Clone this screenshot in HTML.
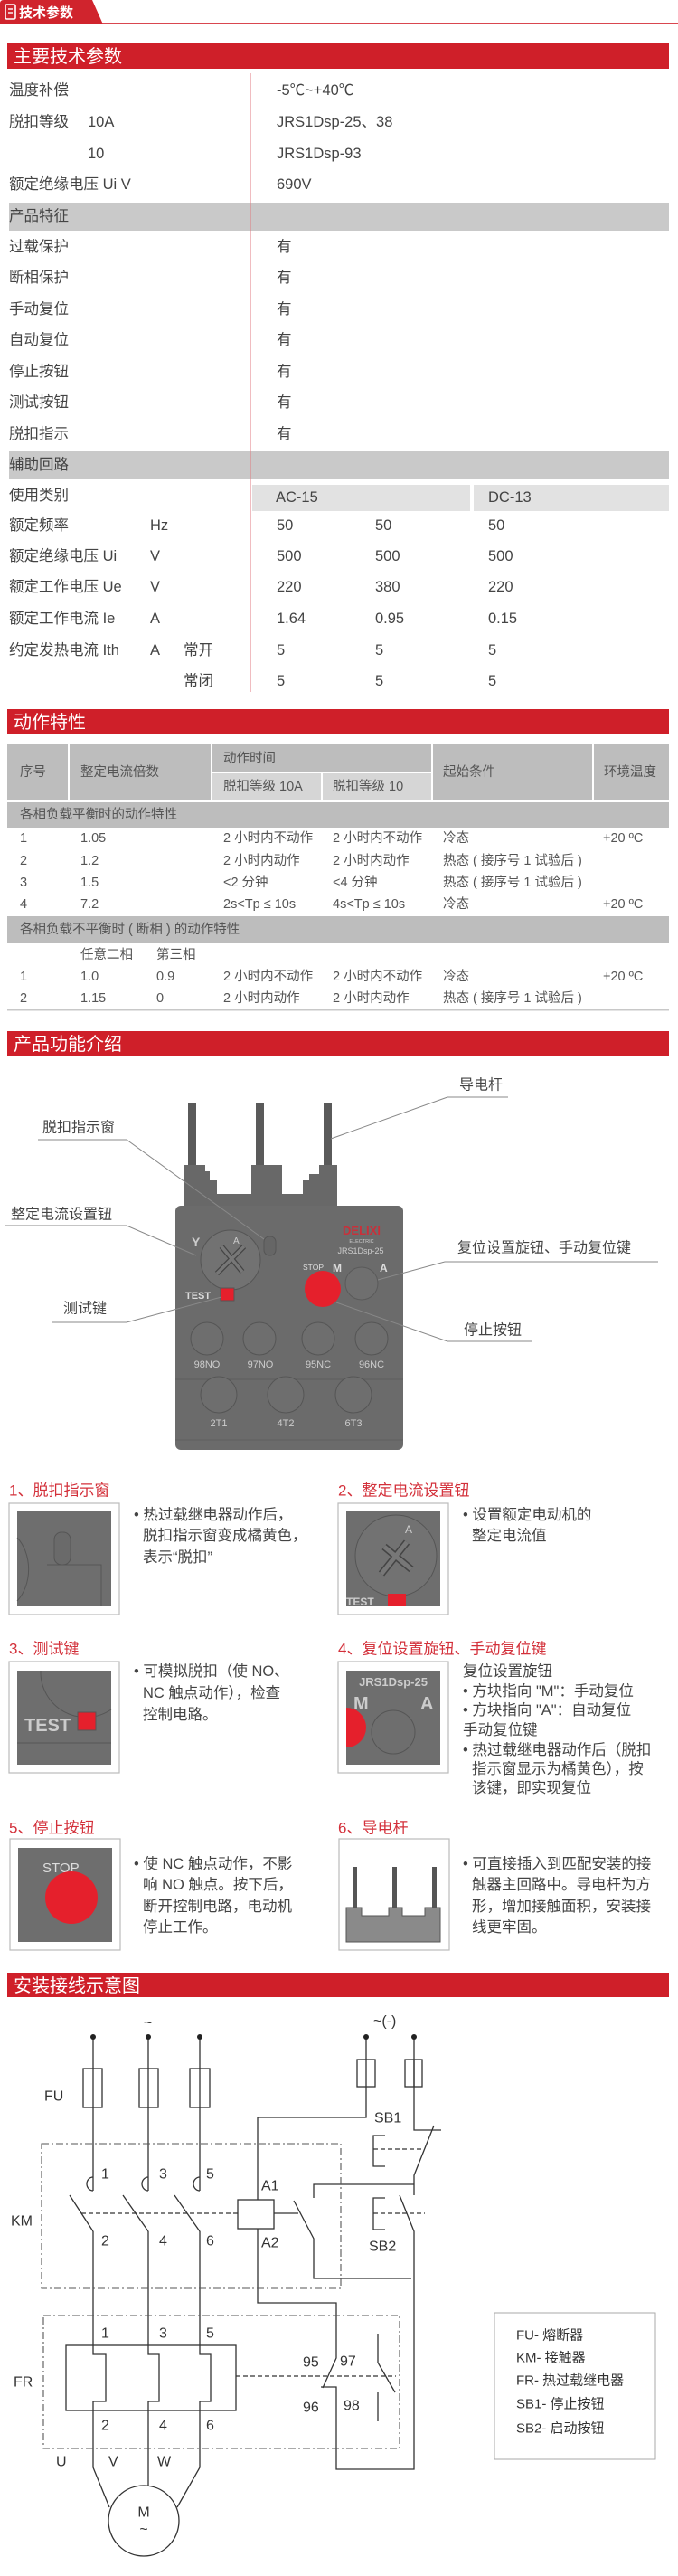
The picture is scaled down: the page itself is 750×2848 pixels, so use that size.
<!DOCTYPE html>
<html><head><meta charset="utf-8"><style>
html,body{margin:0;padding:0;background:#fff;}
svg{display:block;}
text{font-family:"Liberation Sans","Noto Sans CJK SC",sans-serif;}
</style></head><body>
<svg width="750" height="2848" viewBox="0 0 750 2848" xmlns="http://www.w3.org/2000/svg">
<!-- top tab -->
<rect x="0" y="25" width="750" height="2" fill="#d9464f"/>
<path d="M0,4 Q0,0 4,0 L102,0 L114,27 L0,27 Z" fill="#d0242d"/>
<rect x="6" y="5" width="11" height="16" rx="1.5" fill="none" stroke="#fff" stroke-width="1.6"/>
<line x1="9" y1="10" x2="14" y2="10" stroke="#fff" stroke-width="1.4"/><line x1="9" y1="14" x2="14" y2="14" stroke="#fff" stroke-width="1.4"/>
<text x="21" y="19" font-size="15" font-weight="bold" fill="#fff">技术参数</text>

<!-- section 1 -->
<rect x="8" y="47" width="732" height="29" fill="#cf1f29"/>
<text x="15" y="69" font-size="20" fill="#fff">主要技术参数</text>
<rect x="10" y="224" width="730" height="31" fill="#c9c9c9"/>
<rect x="10" y="499" width="730" height="31" fill="#c9c9c9"/>
<rect x="279" y="536" width="241" height="29" fill="#e2e2e2"/>
<rect x="524" y="536" width="216" height="29" fill="#e2e2e2"/>
<rect x="276" y="81" width="1.5" height="684" fill="#e07a80"/>
<g font-size="16.5" fill="#444" dominant-baseline="central">
<text x="10" y="100">温度补偿</text><text x="306" y="100">-5℃~+40℃</text>
<text x="10" y="135">脱扣等级</text><text x="97" y="135">10A</text><text x="306" y="135">JRS1Dsp-25、38</text>
<text x="97" y="170">10</text><text x="306" y="170">JRS1Dsp-93</text>
<text x="10" y="204">额定绝缘电压 Ui V</text><text x="306" y="204">690V</text>
<text x="10" y="239">产品特征</text>
<text x="10" y="273">过载保护</text><text x="306" y="273">有</text>
<text x="10" y="307">断相保护</text><text x="306" y="307">有</text>
<text x="10" y="342">手动复位</text><text x="306" y="342">有</text>
<text x="10" y="376">自动复位</text><text x="306" y="376">有</text>
<text x="10" y="411">停止按钮</text><text x="306" y="411">有</text>
<text x="10" y="445">测试按钮</text><text x="306" y="445">有</text>
<text x="10" y="480">脱扣指示</text><text x="306" y="480">有</text>
<text x="10" y="514">辅助回路</text>
<text x="10" y="548">使用类别</text><text x="305" y="550">AC-15</text><text x="540" y="550">DC-13</text>
<text x="10" y="581">额定频率</text><text x="166" y="581">Hz</text><text x="306" y="581">50</text><text x="415" y="581">50</text><text x="540" y="581">50</text>
<text x="10" y="615">额定绝缘电压 Ui</text><text x="166" y="615">V</text><text x="306" y="615">500</text><text x="415" y="615">500</text><text x="540" y="615">500</text>
<text x="10" y="649">额定工作电压 Ue</text><text x="166" y="649">V</text><text x="306" y="649">220</text><text x="415" y="649">380</text><text x="540" y="649">220</text>
<text x="10" y="684">额定工作电流 Ie</text><text x="166" y="684">A</text><text x="306" y="684">1.64</text><text x="415" y="684">0.95</text><text x="540" y="684">0.15</text>
<text x="10" y="719">约定发热电流 Ith</text><text x="166" y="719">A</text><text x="203" y="719">常开</text><text x="306" y="719">5</text><text x="415" y="719">5</text><text x="540" y="719">5</text>
<text x="203" y="753">常闭</text><text x="306" y="753">5</text><text x="415" y="753">5</text><text x="540" y="753">5</text>
</g>

<!-- section 2 -->
<rect x="8" y="784" width="732" height="28" fill="#cf1f29"/>
<text x="15" y="805" font-size="20" fill="#fff">动作特性</text>
<g fill="#bdbdbd">
<rect x="8" y="823" width="67" height="61"/><rect x="77" y="823" width="156" height="61"/>
<rect x="235" y="823" width="242" height="30"/>
<rect x="479" y="823" width="176" height="61"/><rect x="657" y="823" width="83" height="61"/>
<rect x="8" y="887" width="732" height="28"/><rect x="8" y="1013" width="732" height="30"/>
</g>
<rect x="235" y="855" width="120" height="29" fill="#d6d6d6"/><rect x="357" y="855" width="120" height="29" fill="#d6d6d6"/>
<rect x="8" y="1116" width="732" height="1.5" fill="#c8c8c8"/>
<g font-size="14.5" fill="#555" dominant-baseline="central">
<text x="22" y="854">序号</text><text x="89" y="854">整定电流倍数</text><text x="247" y="839">动作时间</text>
<text x="247" y="870">脱扣等级 10A</text><text x="368" y="870">脱扣等级 10</text>
<text x="490" y="854">起始条件</text><text x="668" y="854">环境温度</text>
<text x="22" y="901">各相负载平衡时的动作特性</text>
<text x="22" y="927">1</text><text x="89" y="927">1.05</text><text x="247" y="927">2 小时内不动作</text><text x="368" y="927">2 小时内不动作</text><text x="490" y="927">冷态</text><text x="667" y="927">+20 ºC</text>
<text x="22" y="952">2</text><text x="89" y="952">1.2</text><text x="247" y="952">2 小时内动作</text><text x="368" y="952">2 小时内动作</text><text x="490" y="952">热态 ( 接序号 1 试验后 )</text>
<text x="22" y="976">3</text><text x="89" y="976">1.5</text><text x="247" y="976">&lt;2 分钟</text><text x="368" y="976">&lt;4 分钟</text><text x="490" y="976">热态 ( 接序号 1 试验后 )</text>
<text x="22" y="1000">4</text><text x="89" y="1000">7.2</text><text x="247" y="1000">2s&lt;Tp ≤ 10s</text><text x="368" y="1000">4s&lt;Tp ≤ 10s</text><text x="490" y="1000">冷态</text><text x="667" y="1000">+20 ºC</text>
<text x="22" y="1028">各相负载不平衡时 ( 断相 ) 的动作特性</text>
<text x="89" y="1056">任意二相</text><text x="173" y="1056">第三相</text>
<text x="22" y="1080">1</text><text x="89" y="1080">1.0</text><text x="173" y="1080">0.9</text><text x="247" y="1080">2 小时内不动作</text><text x="368" y="1080">2 小时内不动作</text><text x="490" y="1080">冷态</text><text x="667" y="1080">+20 ºC</text>
<text x="22" y="1104">2</text><text x="89" y="1104">1.15</text><text x="173" y="1104">0</text><text x="247" y="1104">2 小时内动作</text><text x="368" y="1104">2 小时内动作</text><text x="490" y="1104">热态 ( 接序号 1 试验后 )</text>
</g>

<!-- section 3 -->
<rect x="8" y="1140" width="732" height="27" fill="#cf1f29"/>
<text x="15" y="1161" font-size="20" fill="#fff">产品功能介绍</text>
<!-- device -->
<g fill="#5a5a5a"><rect x="208" y="1220" width="9" height="70"/><rect x="283" y="1220" width="9" height="70"/><rect x="358" y="1220" width="9" height="70"/></g>
<g fill="#686868">
<path d="M203,1288 L227,1288 L227,1295 L232,1295 L232,1305 L240,1305 L240,1335 L203,1335 Z"/>
<path d="M278,1288 L312,1288 L312,1335 L278,1335 Z"/>
<path d="M353,1288 L373,1288 L373,1335 L335,1335 L335,1305 L342,1305 L342,1298 L353,1298 Z"/>
<rect x="240" y="1320" width="133" height="15"/>
</g>
<rect x="194" y="1333" width="252" height="270" rx="6" fill="#6b6b6b"/>
<line x1="194" y1="1525" x2="446" y2="1525" stroke="#5c5c5c"/>
<line x1="194" y1="1592" x2="446" y2="1592" stroke="#5f5f5f"/>
<circle cx="255" cy="1393" r="33" fill="#727272" stroke="#555"/>
<path d="M240,1408 L270,1378 M245,1378 L268,1406" stroke="#444" stroke-width="6" fill="none"/>
<path d="M240,1408 L270,1378 M245,1378 L268,1406" stroke="#777" stroke-width="3.5" fill="none"/>
<text x="258" y="1375" font-size="10" fill="#ccc">A</text>
<text x="212" y="1378" font-size="14" font-weight="bold" fill="#ccc">Y</text>
<rect x="292" y="1367" width="13" height="21" rx="6" fill="#666" stroke="#555"/>
<text x="400" y="1365" font-size="13" font-weight="bold" fill="#c9303a" text-anchor="middle" font-family="Liberation Serif,serif">DELIXI</text>
<text x="400" y="1374" font-size="5.5" fill="#ccc" text-anchor="middle">ELECTRIC</text>
<text x="399" y="1386" font-size="9" fill="#ccc" text-anchor="middle">JRS1Dsp-25</text>
<text x="335" y="1404" font-size="8.5" fill="#ddd">STOP</text>
<text x="368" y="1406" font-size="12" font-weight="bold" fill="#ddd">M</text>
<text x="420" y="1406" font-size="12" font-weight="bold" fill="#ddd">A</text>
<circle cx="400" cy="1419" r="18" fill="#6f6f6f" stroke="#5a5a5a"/>
<circle cx="357" cy="1425" r="20" fill="#e5202c"/>
<text x="205" y="1436" font-size="11" font-weight="bold" fill="#ddd">TEST</text>
<rect x="244" y="1424" width="15" height="14" fill="#e5202c" stroke="#555"/>
<g fill="#6e6e6e" stroke="#555">
<circle cx="229" cy="1480" r="18"/><circle cx="287" cy="1480" r="18"/><circle cx="352" cy="1480" r="18"/><circle cx="411" cy="1480" r="18"/>
<circle cx="242" cy="1542" r="20"/><circle cx="316" cy="1542" r="20"/><circle cx="391" cy="1542" r="20"/>
</g>
<g font-size="11" fill="#ccc" text-anchor="middle">
<text x="229" y="1512">98NO</text><text x="288" y="1512">97NO</text><text x="352" y="1512">95NC</text><text x="411" y="1512">96NC</text>
<text x="242" y="1577">2T1</text><text x="316" y="1577">4T2</text><text x="391" y="1577">6T3</text>
</g>
<!-- callouts -->
<g stroke="#888" stroke-width="1" fill="none">
<path d="M495,1213 L562,1213 M495,1213 L366,1259"/>
<path d="M42,1260 L140,1260 L292,1370"/>
<path d="M5,1355 L140,1355 L217,1388"/>
<path d="M58,1462 L140,1462 L245,1434"/>
<path d="M728,1395 L492,1395 L418,1415"/>
<path d="M588,1483 L495,1483 L372,1440"/>
</g>
<g font-size="16" fill="#444" dominant-baseline="central" font-family="Liberation Serif,Noto Serif CJK SC,serif">
<text x="508" y="1200">导电杆</text>
<text x="47" y="1247">脱扣指示窗</text>
<text x="12" y="1343">整定电流设置钮</text>
<text x="70" y="1447">测试键</text>
<text x="506" y="1380">复位设置旋钮、手动复位键</text>
<text x="513" y="1471">停止按钮</text>
</g>

<!-- thumbnails -->
<g font-size="17" fill="#d3303a" dominant-baseline="central">
<text x="10" y="1648">1、脱扣指示窗</text><text x="374" y="1648">2、整定电流设置钮</text>
<text x="10" y="1823">3、测试键</text><text x="374" y="1823">4、复位设置旋钮、手动复位键</text>
<text x="10" y="2021">5、停止按钮</text><text x="374" y="2021">6、导电杆</text>
</g>
<g fill="#fff" stroke="#bbb" stroke-width="1.2">
<rect x="10" y="1662" width="122" height="123"/><rect x="374" y="1662" width="122" height="123"/>
<rect x="10" y="1837" width="122" height="123"/><rect x="374" y="1837" width="122" height="123"/>
<rect x="11" y="2033" width="122" height="123"/><rect x="375" y="2033" width="122" height="123"/>
</g>
<g fill="#6e6e6e">
<rect x="19" y="1671" width="104" height="105"/><rect x="383" y="1671" width="104" height="105"/>
<rect x="19" y="1847" width="104" height="104"/><rect x="383" y="1847" width="104" height="104"/>
<rect x="20" y="2043" width="104" height="104"/>
</g>
<!-- thumb1 -->
<path d="M19,1700 A34,45 0 0 1 19,1770" fill="none" stroke="#555"/>
<rect x="60" y="1694" width="18" height="36" rx="8" fill="#6a6a6a" stroke="#555"/>
<path d="M52,1730 L112,1730 L112,1776" fill="none" stroke="#555"/>
<!-- thumb2 -->
<circle cx="438" cy="1720" r="45" fill="#727272" stroke="#555"/>
<path d="M422,1740 L450,1705 M425,1710 L455,1735" stroke="#444" stroke-width="8"/>
<path d="M422,1740 L450,1705 M425,1710 L455,1735" stroke="#777" stroke-width="5"/>
<text x="448" y="1695" font-size="12" fill="#ccc">A</text>
<rect x="429" y="1762" width="20" height="14" fill="#e5202c"/>
<text x="383" y="1775" font-size="12" font-weight="bold" fill="#ccc">TEST</text>
<!-- thumb3 -->
<path d="M45,1847 A50,50 0 0 0 123,1890" fill="none" stroke="#555"/>
<text x="27" y="1914" font-size="20" font-weight="bold" fill="#ccc">TEST</text>
<rect x="86" y="1893" width="20" height="20" fill="#e5202c" stroke="#555"/>
<line x1="19" y1="1927" x2="123" y2="1927" stroke="#555"/>
<!-- thumb4 -->
<text x="435" y="1864" font-size="13" font-weight="bold" fill="#ccc" text-anchor="middle">JRS1Dsp-25</text>
<text x="391" y="1890" font-size="20" font-weight="bold" fill="#ccc">M</text>
<text x="465" y="1890" font-size="20" font-weight="bold" fill="#ccc">A</text>
<circle cx="435" cy="1915" r="24" fill="none" stroke="#555"/>
<path d="M383,1888 A22,22 0 0 1 383,1932 Z" fill="#e5202c"/>
<!-- thumb5 -->
<text x="47" y="2070" font-size="15" fill="#ddd">STOP</text>
<circle cx="79" cy="2098" r="29" fill="#e5202c"/>
<!-- thumb6 -->
<g fill="#555"><rect x="390" y="2064" width="5" height="45"/><rect x="434" y="2064" width="5" height="45"/><rect x="478" y="2064" width="5" height="45"/></g>
<path d="M383,2109 L400,2109 L400,2118 L430,2118 L430,2109 L445,2109 L445,2118 L470,2118 L470,2109 L487,2109 L487,2147 L383,2147 Z" fill="#8a8a8a" stroke="#555"/>
<!-- thumb texts -->
<g font-size="16.5" fill="#444" dominant-baseline="central">
<text x="148" y="1675">• 热过载继电器动作后，</text><text x="158" y="1698">脱扣指示窗变成橘黄色，</text><text x="158" y="1722">表示“脱扣”</text>
<text x="512" y="1675">• 设置额定电动机的</text><text x="522" y="1698">整定电流值</text>
<text x="148" y="1848">• 可模拟脱扣（使 NO、</text><text x="158" y="1872">NC 触点动作），检查</text><text x="158" y="1896">控制电路。</text>
<text x="512" y="1848">复位设置旋钮</text><text x="512" y="1870">• 方块指向 "M"：手动复位</text><text x="512" y="1891">• 方块指向 "A"：自动复位</text><text x="512" y="1913">手动复位键</text><text x="512" y="1935">• 热过载继电器动作后（脱扣</text><text x="522" y="1956">指示窗显示为橘黄色），按</text><text x="522" y="1977">该键，即实现复位</text>
<text x="148" y="2061">• 使 NC 触点动作，不影</text><text x="158" y="2084">响 NO 触点。按下后，</text><text x="158" y="2108">断开控制电路，电动机</text><text x="158" y="2131">停止工作。</text>
<text x="512" y="2061">• 可直接插入到匹配安装的接</text><text x="522" y="2084">触器主回路中。导电杆为方</text><text x="522" y="2108">形，增加接触面积，安装接</text><text x="522" y="2131">线更牢固。</text>
</g>

<!-- section 4 -->
<rect x="8" y="2181" width="732" height="27" fill="#cf1f29"/>
<text x="15" y="2202" font-size="20" fill="#fff">安装接线示意图</text>
<g stroke="#333" stroke-width="1.3" fill="none">
<!-- main phases -->
<path d="M103,2252 V2422 M103,2467 V2593"/>
<path d="M164,2252 V2422 M164,2467 V2593"/>
<path d="M221,2252 V2422 M221,2467 V2593"/>
<rect x="92" y="2287" width="21" height="43" fill="#fff"/><rect x="154" y="2287" width="21" height="43" fill="#fff"/><rect x="210" y="2287" width="22" height="43" fill="#fff"/>
<line x1="103" y1="2287" x2="103" y2="2330"/><line x1="164" y1="2287" x2="164" y2="2330"/><line x1="221" y1="2287" x2="221" y2="2330"/>
<path d="M103,2407 A7,7.5 0 0 0 103,2422"/><path d="M164,2407 A7,7.5 0 0 0 164,2422"/><path d="M221,2407 A7,7.5 0 0 0 221,2422"/>
<path d="M77,2427 L103,2467 M136,2427 L164,2467 M193,2427 L221,2467"/>
<!-- heater -->
<rect x="73" y="2593" width="188" height="72"/>
<path d="M103,2593 V2603 H117 V2655 H103 V2728 L121,2772"/>
<path d="M164,2593 V2603 H176 V2655 H164 V2748"/>
<path d="M221,2593 V2603 H233 V2655 H221 V2728 L196,2772"/>
<circle cx="159" cy="2787" r="39"/>
<!-- control -->
<path d="M405,2252 V2341 H285 V2432"/>
<rect x="395" y="2277" width="20" height="30" fill="#fff"/><line x1="405" y1="2277" x2="405" y2="2307"/>
<rect x="448" y="2277" width="19" height="30" fill="#fff"/><line x1="458" y1="2277" x2="458" y2="2307"/>
<path d="M458,2252 V2355 H488 M480,2350 L458,2405 V2427"/>
<path d="M347,2430 V2415 H458"/>
<path d="M426,2361 H413 V2395 H426 M426,2430 H413 V2465 H426"/>
<path d="M442,2427 L458,2467 V2730 H372 V2639 H355 M357,2640 L372,2607 V2546 H285 V2464"/>
<rect x="263" y="2432" width="40" height="32" fill="#fff"/>
<path d="M303,2447 H330 M325,2433 L347,2475 V2519 H455"/>
<path d="M418,2580 V2612 L437,2645 M418,2645 V2677"/>
</g>
<g stroke="#333" stroke-width="1.2" fill="none" stroke-dasharray="5 3">
<path d="M90,2447 H263"/><path d="M413,2376 H467"/><path d="M413,2447 H470"/><path d="M261,2627 H438"/>
</g>
<g stroke="#555" stroke-width="1.1" fill="none" stroke-dasharray="8 3 2 3">
<rect x="46" y="2370" width="331" height="160"/>
<rect x="48" y="2560" width="394" height="147"/>
</g>
<g fill="#222"><circle cx="103" cy="2252" r="3"/><circle cx="164" cy="2252" r="3"/><circle cx="221" cy="2252" r="3"/><circle cx="405" cy="2252" r="3"/><circle cx="458" cy="2252" r="3"/></g>
<g font-size="16" fill="#333" dominant-baseline="central">
<text x="159" y="2237">~</text><text x="413" y="2235">~(-)</text>
<text x="49" y="2318">FU</text><text x="414" y="2342">SB1</text>
<text x="12" y="2456">KM</text><text x="408" y="2484">SB2</text>
<text x="112" y="2404">1</text><text x="176" y="2404">3</text><text x="228" y="2404">5</text>
<text x="112" y="2478">2</text><text x="176" y="2478">4</text><text x="228" y="2478">6</text>
<text x="289" y="2417">A1</text><text x="289" y="2480">A2</text>
<text x="112" y="2580">1</text><text x="176" y="2580">3</text><text x="228" y="2580">5</text>
<text x="112" y="2682">2</text><text x="176" y="2682">4</text><text x="228" y="2682">6</text>
<text x="15" y="2634">FR</text>
<text x="335" y="2612">95</text><text x="376" y="2611">97</text><text x="335" y="2662">96</text><text x="380" y="2660">98</text>
<text x="62" y="2722">U</text><text x="120" y="2722">V</text><text x="174" y="2722">W</text>
<text x="159" y="2778" text-anchor="middle">M</text><text x="159" y="2797" text-anchor="middle">~</text>
</g>
<rect x="547" y="2557" width="178" height="162" fill="none" stroke="#aaa"/>
<g font-size="15" fill="#333" dominant-baseline="central">
<text x="571" y="2582">FU- 熔断器</text><text x="571" y="2607">KM- 接触器</text><text x="571" y="2632">FR- 热过载继电器</text><text x="571" y="2658">SB1- 停止按钮</text><text x="571" y="2685">SB2- 启动按钮</text>
</g>
</svg>
</body></html>
